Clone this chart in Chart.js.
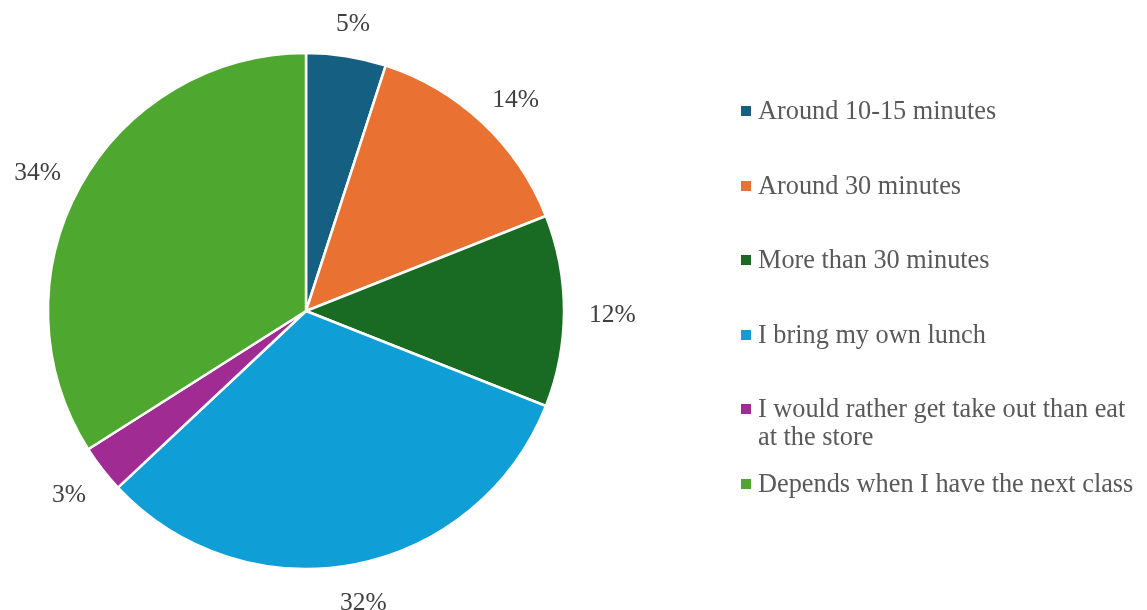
<!DOCTYPE html>
<html>
<head>
<meta charset="utf-8">
<script src="https://cdn.jsdelivr.net/npm/chart.js@4.4.1/dist/chart.umd.min.js"></script>
<style>
  html, body { margin: 0; padding: 0; background: #ffffff; }
  #wrap { position: relative; width: 1147px; height: 610px; }
  #chart { position: absolute; left: 0; top: 0; }
  #legend {
    position: absolute; left: 741px; top: 97px; width: 404px;
    margin: 0; padding: 0; list-style: none;
    font-family: "Liberation Serif", "Times New Roman", serif;
    font-size: 26.3px; color: #595959; line-height: 28px;
  }
  #legend li { position: relative; height: 74.6px; padding-left: 17px; box-sizing: border-box; }
  #legend li span.box {
    position: absolute; left: 0; top: 9px; width: 10px; height: 10px;
  }
</style>
</head>
<body>
<div id="wrap">
  <canvas id="chart" width="1147" height="610"></canvas>
  <ul id="legend"></ul>
</div>
<script>
// Survey answers: how long a lunch stop usually takes
const categories = [
  "Around 10-15 minutes",
  "Around 30 minutes",
  "More than 30 minutes",
  "I bring my own lunch",
  "I would rather get take out than eat at the store",
  "Depends when I have the next class"
];
const shares = [5, 14, 12, 32, 3, 34];
const sliceColors = ["#156082", "#E97132", "#196B24", "#0F9ED5", "#A02B93", "#4EA72E"];

// Percentage labels placed just outside each slice, along its middle angle
const outsideLabels = {
  id: "outsideLabels",
  afterDatasetsDraw(chart) {
    const ctx = chart.ctx;
    const meta = chart.getDatasetMeta(0);
    const values = chart.data.datasets[0].data;
    ctx.save();
    ctx.font = '25.5px "Liberation Serif", "Times New Roman", serif';
    ctx.fillStyle = "#404040";
    ctx.textAlign = "center";
    ctx.textBaseline = "middle";
    meta.data.forEach((arc, i) => {
      const p = arc.getProps(["x", "y", "startAngle", "endAngle", "outerRadius"], true);
      const mid = (p.startAngle + p.endAngle) / 2;
      const cx = Math.cos(mid), cy = Math.sin(mid);
      const text = values[i] + "%";
      const w = ctx.measureText(text).width;
      const h = 22;
      const r = p.outerRadius + 25;
      const x = p.x + r * cx + (w / 2) * cx;
      const y = p.y + r * cy + (h / 2) * cy + 4;
      ctx.fillText(text, x, y);
    });
    ctx.restore();
  }
};

const chart = new Chart(document.getElementById("chart"), {
  type: "pie",
  data: {
    labels: categories,
    datasets: [{
      data: shares,
      backgroundColor: sliceColors,
      borderColor: "#ffffff",
      borderWidth: 2.5
    }]
  },
  options: {
    responsive: false,
    animation: false,
    radius: 258,
    layout: { padding: { left: 0, right: 535, top: 12, bottom: 0 } },
    plugins: {
      legend: { display: false },
      tooltip: { enabled: false }
    }
  },
  plugins: [outsideLabels]
});

// Legend list built from the chart's own labels and colours
const legendEl = document.getElementById("legend");
chart.data.labels.forEach((label, i) => {
  const li = document.createElement("li");
  const box = document.createElement("span");
  box.className = "box";
  box.style.background = chart.data.datasets[0].backgroundColor[i];
  li.appendChild(box);
  li.appendChild(document.createTextNode(label));
  legendEl.appendChild(li);
});
</script>
</body>
</html>
